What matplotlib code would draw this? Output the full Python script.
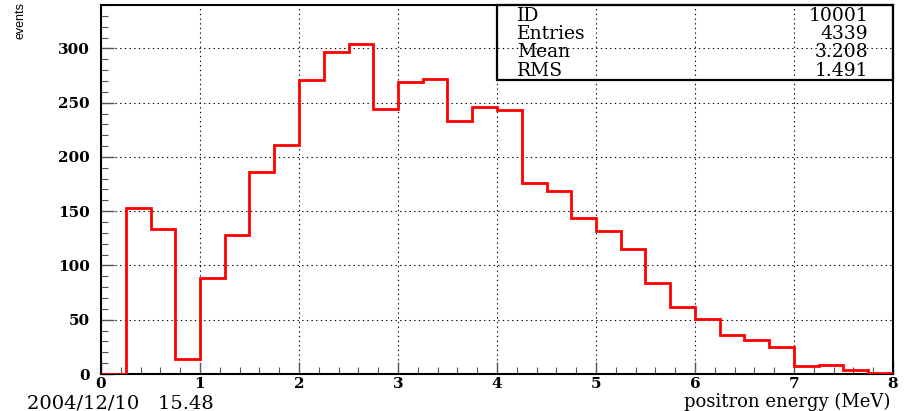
import matplotlib
matplotlib.use("Agg")
import matplotlib.pyplot as plt
import numpy as np
from matplotlib.ticker import MultipleLocator

# Histogram contents: 32 bins of 0.25 MeV from 0 to 8 MeV
bin_edges = np.arange(0, 8.0001, 0.25)
counts = [0, 153, 134, 14, 88, 128, 186, 211,
          271, 297, 304, 244, 269, 272, 233, 246,
          243, 176, 169, 144, 132, 115, 84, 62,
          51, 36, 31, 25, 7, 8, 4, 1]

stat_names = ["ID", "Entries", "Mean", "RMS"]
stat_values = ["10001", "4339", "3.208", "1.491"]

x_label = "positron energy (MeV)"
y_label = "events"
stamp = "2004/12/10   15.48"

serif = ["DejaVu Serif"]

fig = plt.figure(figsize=(9.09, 4.11), dpi=100)
ax = fig.add_axes([101 / 909, 1 - 374 / 411, 792 / 909, 369 / 411])

ax.stairs(counts, bin_edges, color="#ff0000", lw=2.0, zorder=4)

ax.set_xlim(0, 8)
ax.set_ylim(0, 340)

ax.xaxis.set_major_locator(MultipleLocator(1))
ax.xaxis.set_minor_locator(MultipleLocator(0.2))
ax.yaxis.set_major_locator(MultipleLocator(50))
ax.yaxis.set_minor_locator(MultipleLocator(10))

ax.tick_params(which="both", direction="in", top=False, right=False,
               color="#555555")
ax.tick_params(which="major", length=9, width=1.0)
ax.tick_params(which="minor", length=5, width=0.8)
ax.tick_params(axis="y", which="major", pad=8)
ax.tick_params(axis="x", which="major", pad=2)

for lab in ax.get_xticklabels() + ax.get_yticklabels():
    lab.set_family(serif)
    lab.set_fontweight("bold")
    lab.set_fontsize(11)

ax.grid(True, which="major", color="black", linestyle=(0, (1.2, 3)), lw=0.8)
ax.set_axisbelow(True)

for side in ax.spines.values():
    side.set_linewidth(1.5)
    side.set_color("black")

# Statistics box in the upper right corner
box_x0, box_y0 = 4.0, 0.797
ax.add_patch(plt.Rectangle((box_x0, box_y0), 4.0, 1 - box_y0,
                           transform=ax.get_xaxis_transform(),
                           fill=False, edgecolor="black", lw=1.6,
                           clip_on=False, zorder=5))
row_y = [0.970, 0.921, 0.873, 0.821]
for yy, name, val in zip(row_y, stat_names, stat_values):
    ax.text(4.2, yy, name, transform=ax.get_xaxis_transform(),
            family=serif, fontsize=13.5, va="center", ha="left")
    ax.text(7.75, yy, val, transform=ax.get_xaxis_transform(),
            family=serif, fontsize=13.5, va="center", ha="right")

fig.text(890 / 909, 1 - 402 / 411, x_label, family=serif, fontsize=13,
         ha="right", va="center")
fig.text(27 / 909, 1 - 403 / 411, stamp, family=serif, fontsize=14,
         ha="left", va="center")
fig.text(21 / 909, 1 - 2 / 411, y_label,
         family=["Liberation Sans Narrow", "Liberation Sans"],
         fontsize=9, rotation=90, ha="center", va="top")

fig.savefig("out.png", dpi=100)
